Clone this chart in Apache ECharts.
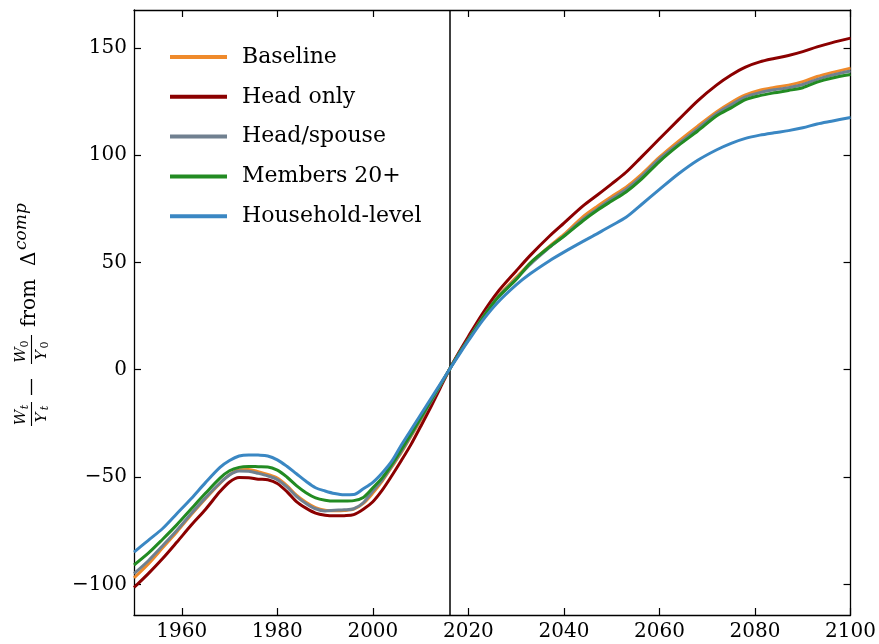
<!DOCTYPE html>
<html>
<head>
<meta charset="utf-8">
<script src="https://cdn.jsdelivr.net/npm/echarts@6/dist/echarts.min.js"></script>
<style>
html,body{margin:0;padding:0;background:#fff;}
#chart{width:879px;height:644px;}
</style>
</head>
<body>
<div id="chart"></div>
<script>
const years = [1950,1953,1956,1959,1962,1965,1968,1970,1972,1974,1976,1978,1980,1982,1984,1986,1988,1990,1992,1994,1996,1998,2000,2002,2004,2006,2008,2010,2012,2014,2016,2018,2020,2023,2026,2030,2033,2037,2040,2044,2047,2050,2053,2056,2060,2064,2068,2072,2075,2078,2081,2084,2087,2090,2093,2096,2100];

const baseline = [-97,-90.5,-83,-75.5,-67.5,-60,-53,-48.9,-46.7,-46.5,-47.5,-48.8,-50.5,-54,-58.5,-61.8,-64.3,-65.5,-65.7,-65.6,-65,-62.3,-57.5,-51.8,-45.2,-38.5,-31,-23.5,-15.8,-8,0,7.6,14.5,24.8,33.7,43,49.8,57.6,63,71.3,76.2,80.7,85,90.5,99,106.5,113.5,120.2,124.5,128,130.2,131.5,132.6,134.2,136.6,138.4,140.5];

const headOnly = [-101.5,-95,-88,-80.3,-72.4,-65,-56.8,-52.3,-50.2,-50.3,-51,-51.3,-53,-56.8,-61.5,-64.5,-66.8,-67.8,-68.1,-68,-67.5,-65,-61.5,-56,-49.3,-42.2,-34.8,-26.5,-18,-9,0,8,15.5,26.3,35.8,46,53.4,62.3,68.3,76.3,81.4,86.6,92,98.6,107.6,116.5,125.3,132.7,137.3,141,143.4,145,146.4,148.2,150.4,152.3,154.5];

const headSpouse = [-95,-89,-82,-74.8,-67,-59.6,-52.8,-49,-47.2,-47.3,-48.3,-49.5,-51.2,-54.6,-59,-62.3,-64.8,-65.8,-65.5,-65.3,-64.8,-62,-56.5,-51.3,-44.7,-38,-30.5,-23,-15.5,-7.8,0,7.4,14.2,24.4,33.3,42.3,49.2,57,62.4,70.1,74.9,79.6,84,89.5,98.2,105.3,112.3,119.4,123.4,127.1,129.1,130.4,131.4,132.9,135.3,137.2,139.2];

const members20 = [-91,-85.5,-79,-72.2,-64.8,-57.5,-50.5,-47.1,-45.5,-45.1,-45.2,-45.3,-46.8,-50,-54,-57.3,-59.7,-60.8,-61.2,-61.2,-61,-59.5,-55,-50.3,-44,-37,-30,-22.5,-15,-7.5,0,7.3,14,24.2,33.2,42,49.8,57.2,62.2,69.4,74.3,78.6,82.8,88.3,97,104.5,111.2,118.3,122,125.8,127.7,129,130.1,131.4,134,135.8,137.5];

const household = [-85,-79.5,-74,-67,-60,-52.5,-45.5,-42.3,-40.2,-39.7,-39.8,-40.2,-42,-45,-48.5,-52,-55,-56.5,-57.7,-58.3,-58.2,-55.5,-52.5,-48,-42.5,-35,-28,-21,-14,-7,0,6.8,13.5,23,31,39.5,44.8,50.8,54.8,59.8,63.4,67.2,71,76.5,84,91.3,97.6,102.5,105.5,107.8,109.3,110.4,111.4,112.7,114.5,115.8,117.5];

const seriesNames = ['Baseline','Head only','Head/spouse','Members 20+','Household-level'];
const seriesColors = ['#ef8a2b','#8b0000','#708090','#228b22','#3a87c3'];
const seriesValues = [baseline, headOnly, headSpouse, members20, household];

const xTicks = [1960,1980,2000,2020,2040,2060,2080,2100];
const yTicks = [-100,-50,0,50,100,150];
const refYear = 2016;

const FONT = 'DejaVu Serif';
const chart = echarts.init(document.getElementById('chart'), null, {renderer:'canvas'});

const series = seriesNames.map((name,i)=>({
  name, type:'line', showSymbol:false, smooth:0.3,
  lineStyle:{width:3, color:seriesColors[i]}, itemStyle:{color:seriesColors[i]},
  data: years.map((y,j)=>[y, seriesValues[i][j]]),
  z: 2+i,
  markLine: i===0 ? {silent:true, symbol:['none','none'], label:{show:false},
     lineStyle:{color:'#000', width:1.5, type:'solid'}, data:[{xAxis:refYear}]} : undefined
}));

const fmt = v => String(v).replace('-', '\u2212');
const axisCommon = {
  axisLine:{show:true, onZero:false, lineStyle:{color:'#000', width:1.3}},
  splitLine:{show:false},
};
const yMin = -114.3, yMax = 167.6;

const italic = (t, x, y, size) => ({type:'text', x, y, style:{text:t, font:'italic '+size+'px "'+FONT+'"', fill:'#000', align:'center', verticalAlign:'middle'}});
const plain = (t, x, y, size) => ({type:'text', x, y, style:{text:t, font:size+'px "'+FONT+'"', fill:'#000', align:'left', verticalAlign:'middle'}});
const hline = (x1, x2, y, w) => ({type:'line', shape:{x1, y1:y, x2, y2:y}, style:{stroke:'#000', lineWidth:w}});

const ylabel = {
  type:'group', x:37, y:428, rotation:Math.PI/2,
  children:[
    italic('W',10.5,-16,15), italic('t',21,-12,11),
    hline(2,26,-5.5,1.1),
    italic('Y',10.5,5,15), italic('t',20,8,11),
    hline(33,49,-5.5,1.3),
    italic('W',73,-16,15), {type:'text', x:84, y:-12, style:{text:'0', font:'11px "'+FONT+'"', fill:'#000', align:'center', verticalAlign:'middle'}},
    hline(64,93,-5.5,1.1),
    italic('Y',73,5,15), {type:'text', x:83, y:8, style:{text:'0', font:'11px "'+FONT+'"', fill:'#000', align:'center', verticalAlign:'middle'}},
    plain('from',101,-7,20),
    plain('\u0394',162,-7,20),
    {type:'text', x:178, y:-15, style:{text:'comp', font:'italic 17px "'+FONT+'"', fill:'#000', align:'left', verticalAlign:'middle'}}
  ]
};

chart.setOption({
  animation:false,
  backgroundColor:'#fff',
  grid:{left:134, right:24, top:10, bottom:29, containLabel:false},
  legend:{
    orient:'vertical', left:170, top:44, padding:0, itemWidth:57, itemHeight:4, itemGap:13.8,
    icon:'rect', data:seriesNames,
    textStyle:{fontFamily:FONT, fontSize:22, color:'#000', lineHeight:26, padding:[0,0,0,10]}
  },
  xAxis:[
    Object.assign({type:'value', min:1950, max:2100, position:'bottom',
      axisTick:{show:true, inside:true, length:7, customValues:xTicks, lineStyle:{color:'#000', width:1.2}},
      axisLabel:{show:true, customValues:xTicks, fontFamily:FONT, fontSize:20, color:'#000', margin:7, formatter:v=>String(v)}}, axisCommon),
    Object.assign({type:'value', min:1950, max:2100, position:'top',
      axisTick:{show:true, inside:true, length:7, customValues:xTicks, lineStyle:{color:'#000', width:1.2}},
      axisLabel:{show:false}}, axisCommon)
  ],
  yAxis:[
    Object.assign({type:'value', min:yMin, max:yMax, position:'left',
      axisTick:{show:true, inside:true, length:7, customValues:yTicks, lineStyle:{color:'#000', width:1.2}},
      axisLabel:{show:true, customValues:yTicks, fontFamily:FONT, fontSize:20, color:'#000', margin:7, formatter:fmt}}, axisCommon),
    Object.assign({type:'value', min:yMin, max:yMax, position:'right',
      axisTick:{show:true, inside:true, length:7, customValues:yTicks, lineStyle:{color:'#000', width:1.2}},
      axisLabel:{show:false}}, axisCommon)
  ],
  graphic:[ylabel],
  series
});
</script>
</body>
</html>
